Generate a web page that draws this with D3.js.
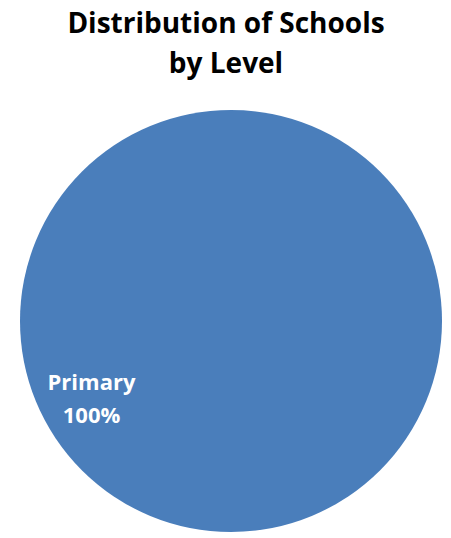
<!DOCTYPE html>
<html>
<head>
<meta charset="utf-8">
<script src="https://cdn.jsdelivr.net/npm/d3@7"></script>
<style>
  body { margin: 0; background: #fff; }
  svg { display: block; }
</style>
</head>
<body>
<div id="chart"></div>
<script>
// data
const levels = ["Primary"];
const shares = [100];
const titleLines = ["Distribution of Schools", "by Level"];

const W = 451, H = 538;
const cx = 231, cy = 321, r = 211;

const svg = d3.select("#chart").append("svg")
  .attr("width", W)
  .attr("height", H);

// title
svg.append("text")
  .attr("x", 226)
  .attr("y", 33)
  .attr("text-anchor", "middle")
  .style("font-family", "'Open Sans', sans-serif")
  .style("font-size", "28px")
  .style("font-weight", "bold")
  .style("fill", "#000")
  .selectAll("tspan")
  .data(titleLines)
  .enter()
  .append("tspan")
  .attr("x", 226)
  .attr("dy", (d, i) => i === 0 ? 0 : 40)
  .text(d => d);

const data = levels.map((l, i) => ({ level: l, value: shares[i] }));

const color = d3.scaleOrdinal().domain(levels).range(["#4A7EBB"]);

const pie = d3.pie().sort(null).value(d => d.value);
const arc = d3.arc().innerRadius(0).outerRadius(r);

const g = svg.append("g").attr("transform", `translate(${cx}, ${cy})`);

g.selectAll("path")
  .data(pie(data))
  .enter()
  .append("path")
  .attr("d", arc)
  .attr("fill", d => color(d.data.level));

// label sits in the lower-left of the pie, as in the original
const label = g.selectAll(".lbl")
  .data(pie(data))
  .enter()
  .append("text")
  .attr("class", "lbl")
  .attr("text-anchor", "middle")
  .attr("transform", `translate(${91.5 - cx}, ${390 - cy})`)
  .style("font-family", "'Open Sans', sans-serif")
  .style("font-size", "22px")
  .style("font-weight", "bold")
  .style("fill", "#fff");

label.append("tspan").attr("x", 0).attr("dy", 0).text(d => d.data.level);
label.append("tspan").attr("x", 0).attr("dy", 33).text(d => d.data.value + "%");
</script>
</body>
</html>
